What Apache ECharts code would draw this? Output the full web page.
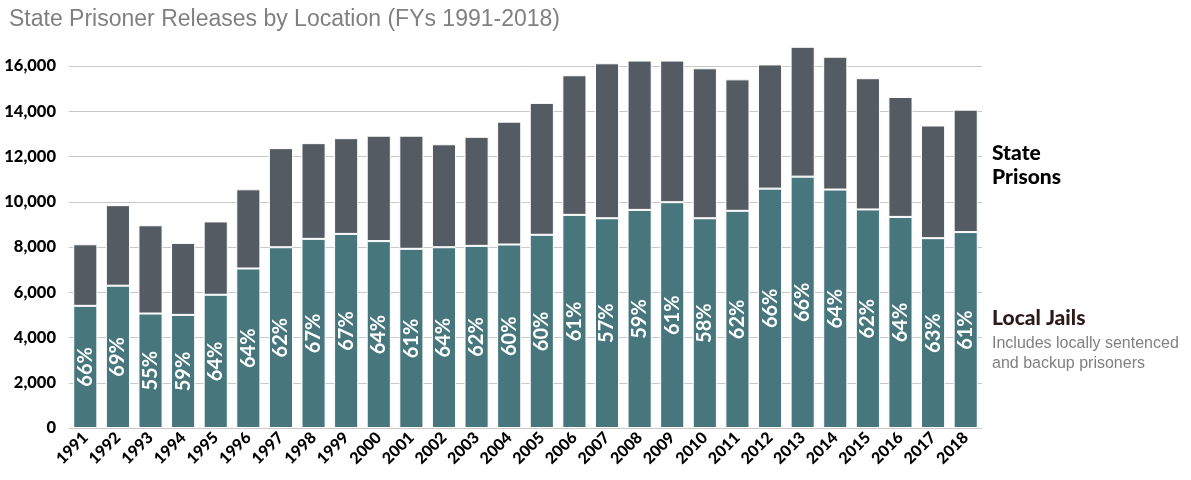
<!DOCTYPE html>
<html lang="en">
<head>
    <meta charset="UTF-8">
    <title>State Prisoner Releases by Location</title>
    <style>
        *{
            margin: 0;
            padding: 0;
        }
        body{
            background: #FFFFFF;
        }
        #chart{
            width: 1191px;
            height: 480px;
        }
    </style>
</head>
<body>
<div id="chart"></div>
</body>

<script src="https://cdn.jsdelivr.net/npm/echarts@6/dist/echarts.min.js"></script>
<script>
    let years = ['1991','1992','1993','1994','1995','1996','1997','1998','1999','2000',
        '2001','2002','2003','2004','2005','2006','2007','2008','2009','2010',
        '2011','2012','2013','2014','2015','2016','2017','2018'];
    // releases to local jails (bottom segment)
    let localJails = [5400, 6290, 5060, 5000, 5890, 7050, 7990, 8360, 8580, 8260,
        7920, 7990, 8050, 8110, 8540, 9420, 9270, 9640, 9980, 9270,
        9600, 10580, 11110, 10540, 9660, 9330, 8390, 8660];
    // releases to state prisons (top segment)
    let statePrisons = [2720, 3560, 3900, 3180, 3240, 3500, 4380, 4230, 4230, 4660,
        5000, 4550, 4820, 5430, 5830, 6170, 6850, 6600, 6260, 6630,
        5810, 5490, 5740, 5870, 5800, 5300, 4980, 5410];
    // share labels printed on the jail bars
    let jailShare = ['66%','69%','55%','59%','64%','64%','62%','67%','67%','64%',
        '61%','64%','62%','60%','60%','61%','57%','59%','61%','58%',
        '62%','66%','66%','64%','62%','64%','63%','61%'];
    let yTicks = [0, 2000, 4000, 6000, 8000, 10000, 12000, 14000, 16000];

    let myChart = echarts.init(document.getElementById('chart'));

    myChart.setOption({
        animation: false,
        title: {
            text: 'State Prisoner Releases by Location (FYs 1991-2018)',
            left: 4,
            top: 3,
            textStyle: {
                fontFamily: 'Liberation Sans',
                fontWeight: 'normal',
                fontSize: 23,
                color: '#808080'
            }
        },
        grid: {
            left: 69,
            right: 209,
            top: 66,
            bottom: 52
        },
        xAxis: {
            type: 'category',
            data: years,
            axisLine: {show: false},
            axisTick: {show: false},
            axisLabel: {
                rotate: 45,
                margin: 7,
                fontFamily: 'Lato',
                fontWeight: 900,
                fontSize: 16,
                color: '#000'
            }
        },
        yAxis: {
            type: 'value',
            min: yTicks[0],
            max: yTicks[yTicks.length - 1],
            interval: 2000,
            axisLine: {show: false},
            axisTick: {show: false},
            splitLine: {
                lineStyle: {color: '#c8c8c8', width: 1}
            },
            axisLabel: {
                margin: 13,
                fontFamily: 'Lato',
                fontWeight: 900,
                fontSize: 16.5,
                color: '#000',
                formatter: function (v) {
                    return v.toLocaleString('en-US');
                }
            }
        },
        series: [
            {
                name: 'Local Jails',
                type: 'bar',
                stack: 'total',
                clip: false,
                barCategoryGap: '26%',
                data: localJails,
                itemStyle: {
                    color: '#47767d',
                    borderColor: '#ffffff',
                    borderWidth: 1
                },
                label: {
                    show: true,
                    position: 'inside',
                    rotate: 90,
                    fontFamily: 'Lato',
                    fontWeight: 'bold',
                    fontSize: 20,
                    color: '#ffffff',
                    formatter: function (p) {
                        return jailShare[p.dataIndex];
                    }
                }
            },
            {
                name: 'State Prisons',
                type: 'bar',
                stack: 'total',
                clip: false,
                data: statePrisons,
                itemStyle: {
                    color: '#545b62',
                    borderColor: '#ffffff',
                    borderWidth: 1
                }
            }
        ],
        graphic: [
            {
                type: 'text',
                left: 992,
                top: 141,
                style: {
                    text: 'State\nPrisons',
                    fontFamily: 'Lato',
                    fontWeight: 900,
                    fontSize: 21,
                    lineHeight: 24,
                    fill: '#000'
                }
            },
            {
                type: 'text',
                left: 992,
                top: 308,
                style: {
                    text: 'Local Jails',
                    fontFamily: 'Lato',
                    fontWeight: 900,
                    fontSize: 21,
                    fill: '#2e1a1a'
                }
            },
            {
                type: 'text',
                left: 992,
                top: 334,
                style: {
                    text: 'Includes locally sentenced\nand backup prisoners',
                    fontFamily: 'Liberation Sans',
                    fontSize: 16,
                    lineHeight: 20,
                    fill: '#808080'
                }
            }
        ]
    });
</script>
</html>
